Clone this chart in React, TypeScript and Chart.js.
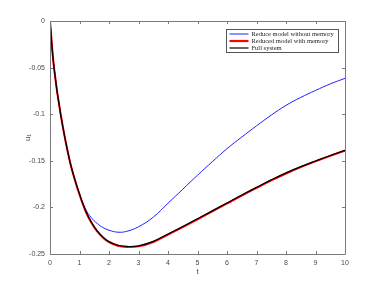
import React, { useEffect, useRef } from "react";
import { Chart, registerables } from "chart.js";

Chart.register(...registerables);

// t values (shared x positions)
const tValues = [0, 0.136, 0.36, 0.67, 0.95, 1.2, 1.4, 1.6, 1.8, 2.0, 2.3, 2.6, 3.0, 3.5, 4, 4.5, 5, 5.5, 6, 6.5, 7, 7.5, 8, 8.5, 9, 9.5, 10];
// Reduce model without memory (blue)
const uNoMemory = [0, -0.05, -0.1, -0.15, -0.181, -0.2015, -0.211, -0.2172, -0.2217, -0.2245, -0.2266, -0.2257, -0.2208, -0.2105, -0.1955, -0.1805, -0.1655, -0.151, -0.137, -0.1245, -0.1125, -0.101, -0.0905, -0.082, -0.0745, -0.0675, -0.0615];
// Reduced model with memory (red)
const uWithMemory = [0, -0.05, -0.1, -0.1503, -0.1814, -0.2036, -0.2163, -0.2258, -0.2325, -0.2373, -0.2412, -0.2425, -0.2418, -0.2371, -0.2291, -0.2211, -0.2128, -0.2043, -0.1958, -0.1873, -0.1791, -0.1711, -0.1636, -0.1568, -0.1506, -0.1447, -0.1391];
// Full system (black)
const uFull = [0, -0.05, -0.1, -0.15, -0.181, -0.2031, -0.2157, -0.2252, -0.2319, -0.2367, -0.2406, -0.2419, -0.2412, -0.2365, -0.2285, -0.2205, -0.2122, -0.2037, -0.1952, -0.1867, -0.1785, -0.1705, -0.163, -0.1563, -0.1502, -0.1443, -0.1388];

const xTicks = [0, 1, 2, 3, 4, 5, 6, 7, 8, 9, 10];
const yTicks = [0, -0.05, -0.1, -0.15, -0.2, -0.25];
const yTickLabels = ["0", "-0.05", "-0.1", "-0.15", "-0.2", "-0.25"];
const seriesLabels = ["Reduce model without memory", "Reduced model with memory", "Full system"];
const xTitle = "t";
const yTitle = "u\u2081";

const AXIS_COLOR = "#7a7a7a";
const TEXT_COLOR = "#4a4a4a";

function pts(ys: number[]) {
  return tValues.map((t, i) => ({ x: t, y: ys[i] }));
}

const boxPlugin = {
  id: "matlabBox",
  afterDatasetsDraw(chart: any) {
    const { ctx, chartArea, scales } = chart;
    const { left, right, top, bottom } = chartArea;
    ctx.save();
    ctx.strokeStyle = AXIS_COLOR;
    ctx.lineWidth = 1;
    ctx.beginPath();
    ctx.rect(Math.round(left) + 0.5, Math.round(top) + 0.5, Math.round(right - left), Math.round(bottom - top));
    ctx.stroke();
    // inward ticks
    const tl = 3;
    ctx.beginPath();
    for (const v of xTicks) {
      const x = Math.round(scales.x.getPixelForValue(v)) + 0.5;
      ctx.moveTo(x, bottom);
      ctx.lineTo(x, bottom - tl);
      ctx.moveTo(x, top);
      ctx.lineTo(x, top + tl);
    }
    for (const v of yTicks) {
      const y = Math.round(scales.y.getPixelForValue(v)) + 0.5;
      ctx.moveTo(left, y);
      ctx.lineTo(left + tl, y);
      ctx.moveTo(right, y);
      ctx.lineTo(right - tl, y);
    }
    ctx.stroke();

    // axis titles
    ctx.fillStyle = TEXT_COLOR;
    ctx.font = "8px 'Liberation Sans', Arial, sans-serif";
    ctx.textAlign = "center";
    ctx.textBaseline = "middle";
    ctx.fillText(xTitle, (left + right) / 2, 272);
    ctx.save();
    ctx.translate(28, (top + bottom) / 2);
    ctx.rotate(-Math.PI / 2);
    ctx.fillText(yTitle, 0, 0);
    ctx.restore();

    // legend
    const lx = 226.5, ly = 29.5, lw = 112, lh = 23;
    ctx.fillStyle = "#ffffff";
    ctx.fillRect(lx, ly, lw, lh);
    ctx.strokeStyle = "#555555";
    ctx.lineWidth = 1;
    ctx.strokeRect(lx, ly, lw, lh);
    ctx.font = "6.5px 'Liberation Serif', 'Times New Roman', serif";
    ctx.textAlign = "left";
    const datasets = chart.data.datasets;
    for (let i = 0; i < 3; i++) {
      const ds = datasets[i];
      const y = ly + 4.5 + i * 7;
      ctx.strokeStyle = ds.borderColor;
      ctx.lineWidth = i === 1 ? 2.2 : i === 2 ? 1.2 : 1;
      ctx.beginPath();
      ctx.moveTo(lx + 3, y);
      ctx.lineTo(lx + 22, y);
      ctx.stroke();
      ctx.fillStyle = "#222222";
      ctx.fillText(ds.label, lx + 25, y + 0.5);
    }
    ctx.restore();
  },
};

export default function App() {
  const canvasRef = useRef<HTMLCanvasElement | null>(null);

  useEffect(() => {
    const prevMargin = document.body.style.margin;
    document.body.style.margin = "0";
    const canvas = canvasRef.current!;
    const chart = new Chart(canvas, {
      type: "line",
      data: {
        datasets: [
          {
            label: seriesLabels[0],
            data: pts(uNoMemory),
            borderColor: "#2020ff",
            borderWidth: 1,
            pointRadius: 0,
            tension: 0.4,
            order: 3,
          },
          {
            label: seriesLabels[1],
            data: pts(uWithMemory),
            borderColor: "#ff0000",
            borderWidth: 2,
            pointRadius: 0,
            tension: 0.4,
            order: 2,
          },
          {
            label: seriesLabels[2],
            data: pts(uFull),
            borderColor: "#000000",
            borderWidth: 1.2,
            pointRadius: 0,
            tension: 0.4,
            order: 1,
          },
        ],
      },
      options: {
        animation: false,
        responsive: false,
        maintainAspectRatio: false,
        layout: { padding: { top: 21, right: 37, left: 0, bottom: 0 } },
        plugins: { legend: { display: false }, tooltip: { enabled: false } },
        scales: {
          x: {
            type: "linear",
            min: 0,
            max: 10,
            afterBuildTicks: (s: any) => {
              s.ticks = xTicks.map((v) => ({ value: v }));
            },
            afterFit: (s: any) => {
              s.height = 32;
            },
            grid: { display: false, drawTicks: false },
            border: { display: false },
            ticks: {
              color: TEXT_COLOR,
              font: { family: "'Liberation Sans', Arial, sans-serif", size: 7 },
              padding: 5,
              maxRotation: 0,
              callback: (v: any) => String(v),
            },
          },
          y: {
            type: "linear",
            min: -0.25,
            max: 0,
            afterBuildTicks: (s: any) => {
              s.ticks = yTicks.map((v) => ({ value: v }));
            },
            afterFit: (s: any) => {
              s.width = 50;
            },
            grid: { display: false, drawTicks: false },
            border: { display: false },
            ticks: {
              color: TEXT_COLOR,
              font: { family: "'Liberation Sans', Arial, sans-serif", size: 7 },
              padding: 5,
              callback: (v: any) => {
                const idx = yTicks.findIndex((t) => Math.abs(t - v) < 1e-9);
                return idx >= 0 ? yTickLabels[idx] : "";
              },
            },
          },
        },
      },
      plugins: [boxPlugin],
    } as any);
    return () => {
      chart.destroy();
      document.body.style.margin = prevMargin;
    };
  }, []);

  return (
    <div style={{ position: "absolute", left: 0, top: 0, width: 382, height: 286, background: "#fff" }}>
      <canvas ref={canvasRef} width={382} height={286} style={{ width: 382, height: 286 }} />
    </div>
  );
}
